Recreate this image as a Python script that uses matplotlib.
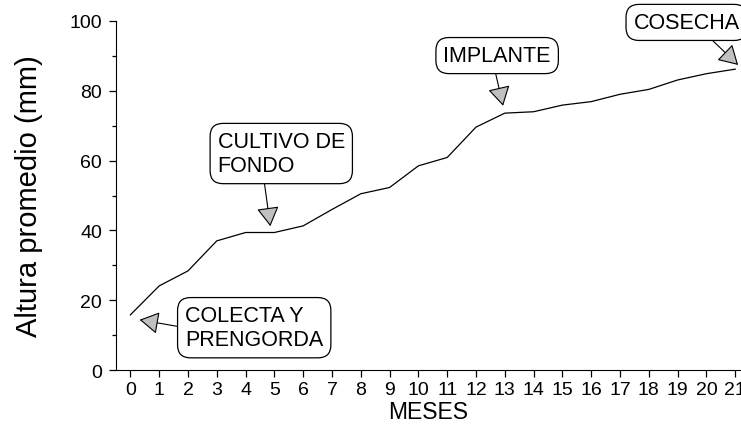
import matplotlib.pyplot as plt
from matplotlib.ticker import MultipleLocator

plt.rcParams['font.family'] = ['Liberation Sans', 'DejaVu Sans']

# monthly mean height (mm)
meses = list(range(0, 22))
altura = [15.8, 24.1, 28.4, 37.0, 39.4, 39.4, 41.3, 46.0, 50.5, 52.3, 58.5,
          60.9, 69.6, 73.6, 74.0, 75.9, 76.9, 79.0, 80.4, 83.1, 84.9, 86.2]

# annotations: label, arrow tip, text position (top-left), arrow start on box
etiquetas = ['COLECTA Y\nPRENGORDA', 'CULTIVO DE\nFONDO', 'IMPLANTE', 'COSECHA']
puntas = [(0.32, 14.4), (4.86, 41.2), (12.94, 75.7), (21.1, 87.4)]
textos = [(1.9, 18.6), (3.03, 68.5), (10.87, 93.1), (17.47, 102.6)]
relpos = [(0.0, 0.5), (0.36, 0.0), (0.47, 0.0), (0.67, 0.0)]

fig = plt.figure(figsize=(7.41, 4.27), dpi=100)
ax = fig.add_axes([0.1565, 0.1311, 0.8435, 0.8174])

ax.plot(meses, altura, color='black', lw=0.9)

for lab, tip, pos, rp in zip(etiquetas, puntas, textos, relpos):
    ax.annotate(lab, xy=tip, xytext=pos, xycoords='data', textcoords='data',
                ha='left', va='top', fontsize=15.5, annotation_clip=False,
                bbox=dict(boxstyle='round,pad=0.35,rounding_size=0.6', fc='white', ec='black', lw=0.9),
                arrowprops=dict(arrowstyle='-|>,head_length=1.2,head_width=0.7',
                                fc='#c0c0c0', ec='black', lw=0.8, mutation_scale=10,
                                shrinkA=0, shrinkB=0, relpos=rp))

ax.set_xlim(-0.5, 21.2)
ax.set_ylim(0, 100)
ax.set_xticks(meses)
ax.yaxis.set_major_locator(MultipleLocator(20))
ax.yaxis.set_minor_locator(MultipleLocator(10))
ax.spines['top'].set_visible(False)
ax.spines['right'].set_visible(False)
ax.tick_params(axis='both', which='major', length=5, width=0.9, labelsize=14)
ax.tick_params(axis='y', which='minor', length=3, width=0.9)
ax.tick_params(axis='y', which='major', pad=5)
ax.tick_params(axis='x', which='major', pad=3)

ax.set_xlabel('MESES', fontsize=16.5, labelpad=1)
ax.set_ylabel('Altura promedio (mm)', fontsize=21, labelpad=19)

plt.savefig('out.png', dpi=100)
